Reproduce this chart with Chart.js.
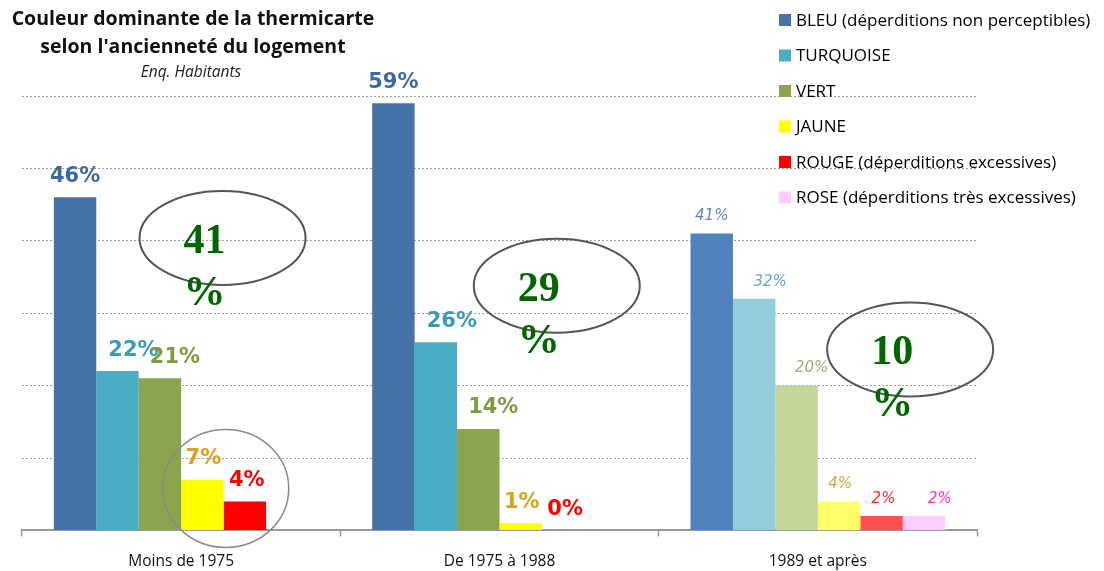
<!DOCTYPE html>
<html lang="fr">
<head>
<meta charset="utf-8">
<title>Couleur dominante de la thermicarte</title>
<script src="https://cdn.jsdelivr.net/npm/chart.js@4.4.1/dist/chart.umd.min.js"></script>
<style>
  html, body { margin: 0; padding: 0; background: #fff; }
  #wrap { position: relative; width: 1104px; height: 571px; }
</style>
</head>
<body>
<div id="wrap"><canvas id="thermiChart" width="1104" height="571"></canvas></div>
<script>
// ---- data ----
const categories = ['Moins de 1975', 'De 1975 à 1988', '1989 et après'];
const seriesNames = [
    'BLEU (déperditions non perceptibles)',
    'TURQUOISE',
    'VERT',
    'JAUNE',
    'ROUGE (déperditions excessives)',
    'ROSE (déperditions très excessives)'
];
const bleu = [46, 59, 41];
const turquoise = [22, 26, 32];
const vert = [21, 14, 20];
const jaune = [7, 1, 4];
const rouge = [4, 0, 2];
const rose = [null, null, 2];
const yTicks = [0, 10, 20, 30, 40, 50, 60];
// share of red/pink-ish cases circled on each group
const bubbleValues = ['41', '29', '10'];

// ---- styles ----
const barColors = [
    ['#4572A7', '#4572A7', '#4F81BD'],
    ['#4BACC6', '#4BACC6', '#93CDDD'],
    ['#8BA54E', '#8BA54E', '#C4D79B'],
    ['#FFFF00', '#FFFF00', '#FFFF66'],
    ['#FF0000', '#FF0000', '#FF5050'],
    ['#FFCCFF', '#FFCCFF', '#FFCCFF']
];
const labelColors = [
    ['#3D6A9E', '#3D6A9E', '#6588B5'],
    ['#3A9BB5', '#3A9BB5', '#68A6BE'],
    ['#7F9A42', '#7F9A42', '#9CAE70'],
    ['#DBA21C', '#DBA21C', '#D6A53A'],
    ['#FF0000', '#FF0000', '#FF2A2A'],
    ['#FF33CC', '#FF33CC', '#FF33CC']
];
const legendColors = ['#4572A7', '#4BACC6', '#8BA54E', '#FFFF00', '#FF0000', '#FFCCFF'];
const labelShift = [0, 16, 15, 1, 2, 16];
// ellipse anchors in scale units (category index, percent)
const bubbles = [
    { x: 0.13, y: 40.4 },
    { x: 1.18, y: 33.8 },
    { x: 2.29, y: 25.0 }
];

document.addEventListener('DOMContentLoaded', function () {
    const seriesData = [bleu, turquoise, vert, jaune, rouge, rose];

    // ===============================
    // Bar labels (value on top of each bar)
    // ===============================
    const barLabels = {
        id: 'barLabels',
        afterDatasetsDraw(chart) {
            const ctx = chart.ctx;
            ctx.save();
            ctx.textAlign = 'center';
            ctx.textBaseline = 'middle';
            chart.data.datasets.forEach((ds, di) => {
                chart.getDatasetMeta(di).data.forEach((bar, i) => {
                    const v = ds.data[i];
                    if (v === null || v === undefined) return;
                    const modern = i === 2;
                    ctx.font = modern ? 'italic 15px "DejaVu Sans"' : 'bold 21px "DejaVu Sans"';
                    ctx.fillStyle = labelColors[di][i];
                    ctx.fillText(v + '%', bar.x + labelShift[di], bar.y - (modern ? 17 : 21));
                });
            });
            ctx.restore();
        }
    };

    // ===============================
    // Title, legend, ellipses
    // ===============================
    const decorations = {
        id: 'decorations',
        afterDraw(chart) {
            const ctx = chart.ctx;
            const x = chart.scales.x;
            const y = chart.scales.y;
            ctx.save();

            // title
            ctx.fillStyle = '#111';
            ctx.textAlign = 'center';
            ctx.textBaseline = 'middle';
            ctx.font = 'bold 19.5px "Open Sans"';
            ctx.fillText('Couleur dominante de la thermicarte', 193, 19);
            ctx.fillText("selon l'ancienneté du logement", 193, 47);
            ctx.font = 'italic 15.5px "Open Sans"';
            ctx.fillStyle = '#222';
            ctx.fillText('Enq. Habitants', 191, 73);

            // legend
            ctx.textAlign = 'left';
            ctx.font = '17px "Open Sans"';
            seriesNames.forEach((name, k) => {
                const ly = 20 + k * 35.5;
                ctx.fillStyle = legendColors[k];
                ctx.fillRect(779, ly - 6, 12, 12);
                ctx.fillStyle = '#000';
                ctx.fillText(name, 796, ly + 1);
            });

            // ellipses with share
            bubbles.forEach((b, k) => {
                const cx = x.getPixelForValue(b.x);
                const cy = y.getPixelForValue(b.y);
                ctx.beginPath();
                ctx.ellipse(cx, cy, 83, 47, 0, 0, Math.PI * 2);
                ctx.strokeStyle = '#555';
                ctx.lineWidth = 2;
                ctx.stroke();
                ctx.fillStyle = '#006600';
                ctx.textAlign = 'center';
                ctx.font = 'bold 42px "Liberation Serif"';
                ctx.fillText(bubbleValues[k], cx - 18, cy + 4);
                ctx.fillText('%', cx - 18, cy + 56);
            });

            // grey circle around yellow/red bars of first group
            ctx.beginPath();
            ctx.ellipse(x.getPixelForValue(0.14), y.getPixelForValue(5.8), 63, 59, 0, 0, Math.PI * 2);
            ctx.strokeStyle = '#8a8a8a';
            ctx.lineWidth = 1.5;
            ctx.stroke();

            ctx.restore();
        }
    };

    const canvas = document.getElementById('thermiChart');
    new Chart(canvas.getContext('2d'), {
        type: 'bar',
        data: {
            labels: categories,
            datasets: seriesNames.map((name, k) => ({
                label: name,
                data: seriesData[k],
                backgroundColor: barColors[k],
                borderWidth: 0,
                categoryPercentage: 0.8,
                barPercentage: 1.0
            }))
        },
        options: {
            responsive: false,
            animation: false,
            layout: { padding: { left: 22, right: 127, top: 96, bottom: -16 } },
            plugins: {
                legend: { display: false },
                title: { display: false },
                tooltip: { enabled: false }
            },
            scales: {
                x: {
                    offset: true,
                    grid: {
                        offset: true,
                        drawOnChartArea: false,
                        drawTicks: true,
                        tickLength: 6,
                        color: '#999',
                        tickWidth: 1.5
                    },
                    border: { display: true, color: '#999', width: 2 },
                    ticks: {
                        color: '#111',
                        font: { family: 'Open Sans', size: 15.5 },
                        padding: 16
                    }
                },
                y: {
                    min: 0,
                    max: 60,
                    afterBuildTicks: axis => { axis.ticks = yTicks.map(v => ({ value: v })); },
                    grid: {
                        drawTicks: false,
                        color: '#a0a0a0',
                        lineWidth: 1
                    },
                    border: { display: false, dash: [2, 2] },
                    ticks: { display: false }
                }
            }
        },
        plugins: [barLabels, decorations]
    });
});
</script>
</body>
</html>
